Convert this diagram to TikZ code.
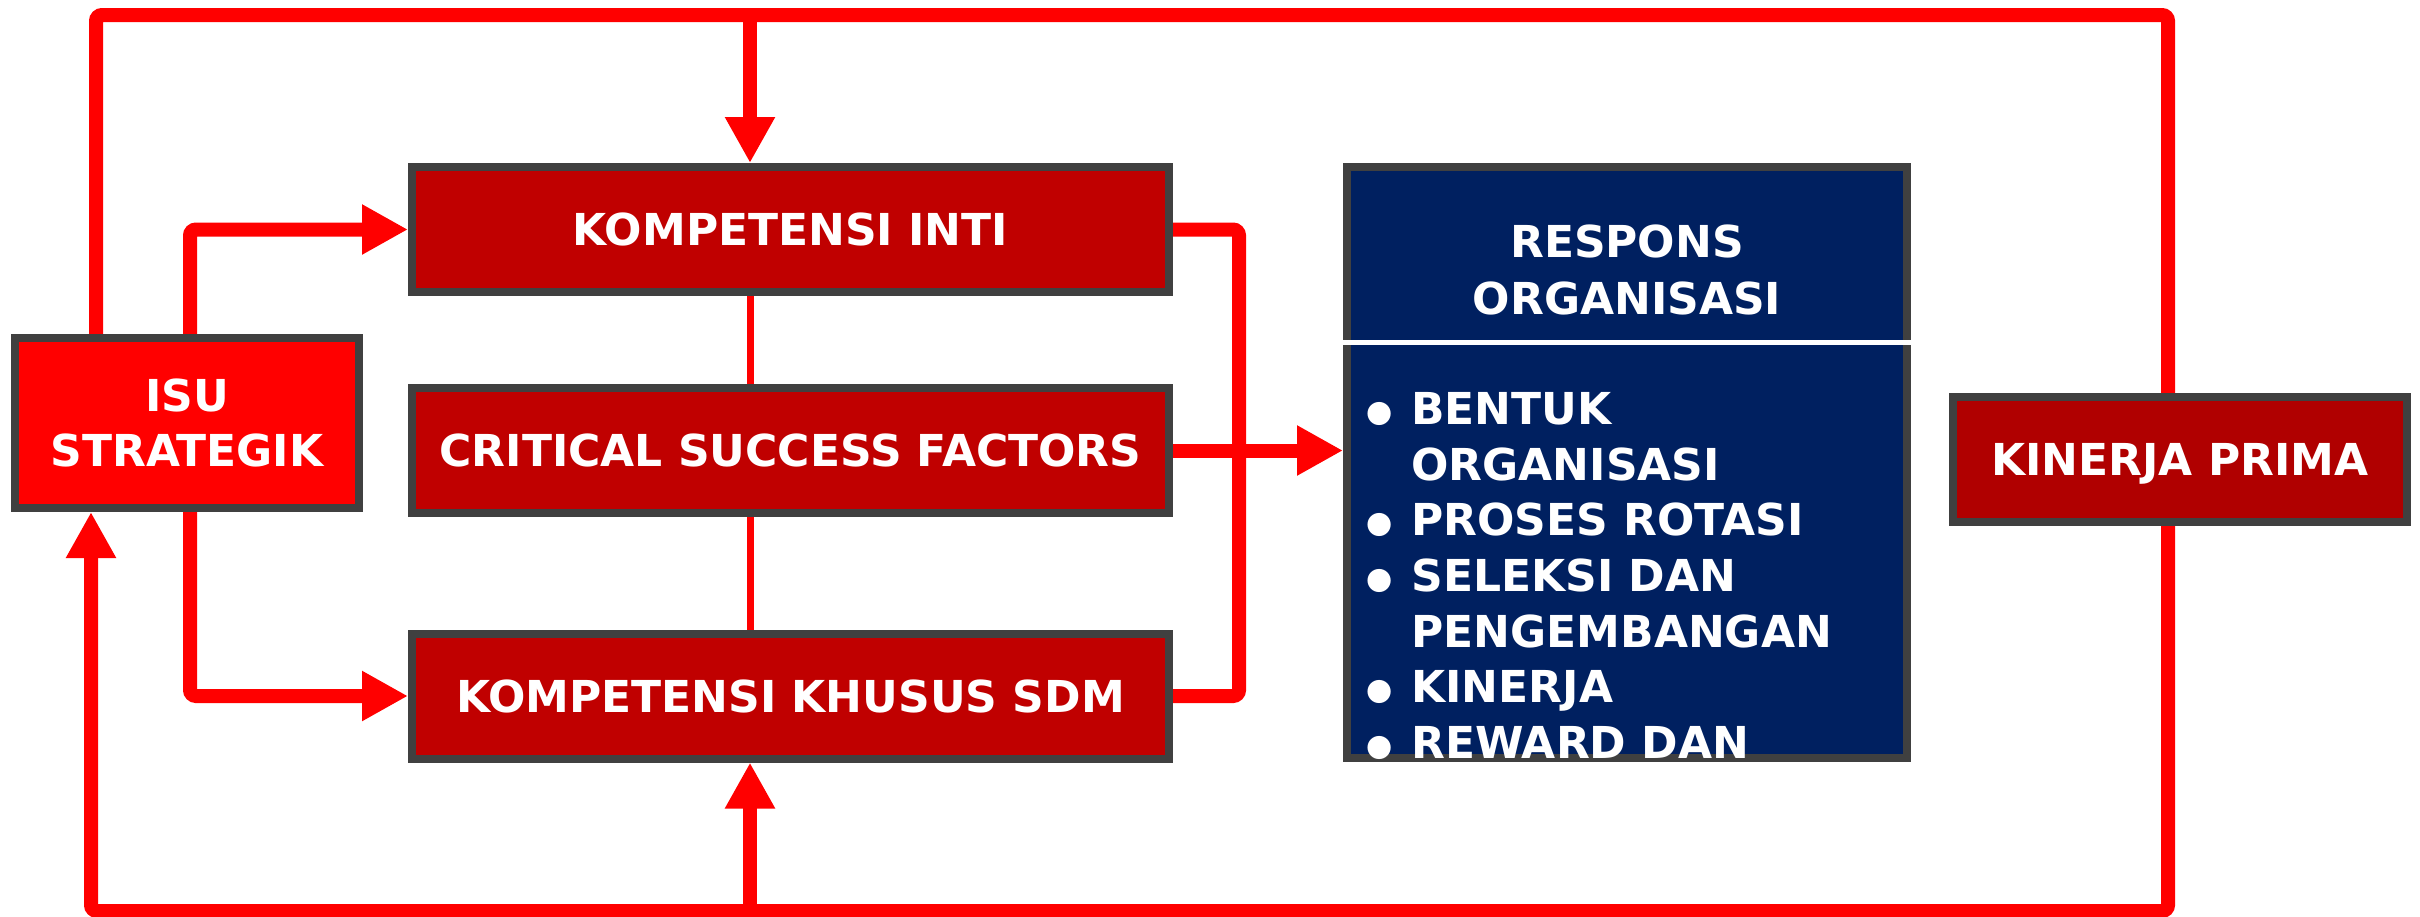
\documentclass[tikz,border=0pt]{standalone}
\usepackage{fontspec}
\usepackage{graphicx}
\setmainfont{DejaVu Sans}
\usetikzlibrary{arrows.meta,backgrounds}

\definecolor{alarm}{HTML}{FF0000}
\definecolor{brick}{HTML}{C00000}
\definecolor{brickdark}{HTML}{B00000}
\definecolor{navy}{HTML}{002060}
\definecolor{frame}{HTML}{404040}

\newcommand\boxfont{\bfseries\fontsize{22}{27.5}\selectfont}
\newcommand\listfont{\bfseries\fontsize{22}{27.8}\selectfont}
\newcommand\lb{\makebox[21pt][l]{\hspace*{-5.5pt}\raisebox{-7pt}{\scalebox{1.5}{•}}}}

\tikzset{
  box/.style={draw=frame, line width=4pt, inner sep=0pt, text=white,
    font=\boxfont, align=center, text depth=0pt},
  redbox/.style={box, fill=brick, minimum width=378.5pt, minimum height=62.5pt},
  link/.style={draw=alarm, line width=7pt, rounded corners=3pt},
  thinlink/.style={draw=alarm, line width=3.5pt},
  head/.style={-{Triangle[length=23pt,width=23.5pt]}},
}

\begin{document}
\begin{tikzpicture}[x=0.5pt, y=-0.5pt]
\useasboundingbox (0,0) rectangle (2420,916);

% boxes
\node[box, fill=alarm, minimum width=172pt, minimum height=85pt] (isu) at (187,423) {ISU\\STRATEGIK};
\node[redbox] (ki)  at (790.5,229.5) {KOMPETENSI INTI};
\node[redbox] (csf) at (790.5,450.5) {CRITICAL SUCCESS FACTORS};
\node[redbox] (kks) at (790.5,696) {KOMPETENSI KHUSUS SDM};
\node[box, fill=navy, minimum width=280pt, minimum height=295.5pt] (resp) at (1627,462.5) {};
\node[box, fill=brickdark, minimum width=227pt, minimum height=62.5pt] (kp) at (2180,459.5) {KINERJA PRIMA};

% content of the response panel
\coordinate (divy) at (0,342);
\draw[white, line width=2.5pt] (resp.west |- divy) -- (resp.east |- divy);
\node[text=white, align=center, inner sep=0pt, font=\bfseries\fontsize{22}{28.25}\selectfont]
  (resphead) at (1627,270) {RESPONS\\ORGANISASI};
\node[text=white, inner sep=0pt, anchor=base west, font=\listfont] (resplist) at (1369,424.6)
  {\begin{tabular}[t]{@{}l@{}l@{}}
   \lb & BENTUK\\
       & ORGANISASI\\
   \lb & PROSES ROTASI\\
   \lb & SELEKSI DAN\\
       & PENGEMBANGAN\\
   \lb & KINERJA\\
   \lb & REWARD DAN
   \end{tabular}};

% routing points
\coordinate (tl) at (96,15);
\coordinate (tr) at (2168,15);
\coordinate (br) at (2168,911);
\coordinate (bl) at (91,911);
\coordinate (tk) at (750,15);
\coordinate (bk) at (750,911);
\coordinate (lx) at (190,450);
\coordinate (rail) at (1239,450);

\begin{scope}[on background layer]
  % outer feedback loop
  \draw[link, head] (isu.north -| tl) -- (tl) -- (tr) -- (br) -- (bl) -- (isu.south -| bl);
  \draw[link, head] (tk) -- (tk |- ki.north);
  \draw[link, head] (bk) -- (bk |- kks.south);
  % thin ties between the three competence boxes
  \draw[thinlink] (ki.south -| tk) -- (csf.north -| tk);
  \draw[thinlink] (csf.south -| tk) -- (kks.north -| tk);
  % strategic issue feeds
  \draw[link, head] (isu.north -| lx) |- (ki.west);
  \draw[link, head] (isu.south -| lx) |- (kks.west);
  % collector bracket into the response panel
  \draw[link] (ki.east) -| (rail) |- (kks.east);
  \draw[link, head] (csf.east) -- (csf.east -| resp.west);
\end{scope}
\end{tikzpicture}
\end{document}
